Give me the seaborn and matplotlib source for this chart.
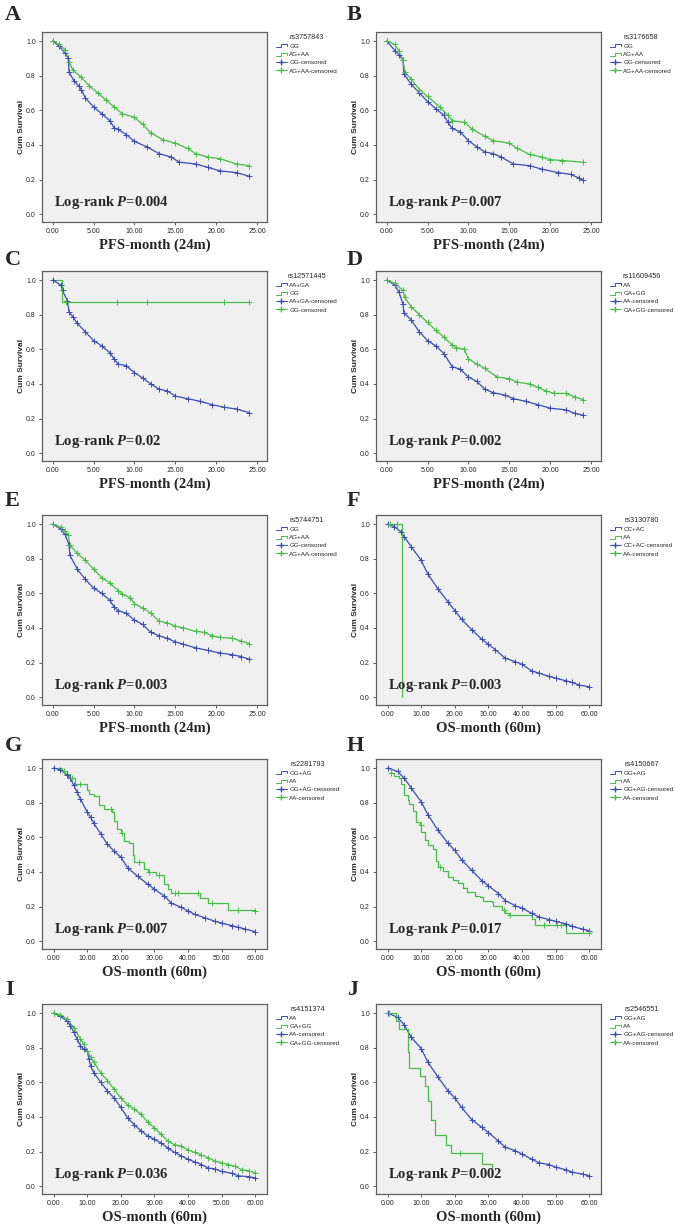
import numpy as np
import pandas as pd
import matplotlib
matplotlib.use('Agg')
import matplotlib.pyplot as plt
import seaborn as sns
from matplotlib.lines import Line2D
from matplotlib.legend_handler import HandlerBase

# ---- data (time in months, cumulative survival) ----
# A  rs3757843 (PFS)
a_gg_t = [0, 0.8, 1.5, 1.9, 2.0, 2.6, 3.2, 3.5, 4.0, 5.0, 6.0, 7.0, 7.5, 8.0, 9.0, 10.0, 11.5, 13.0, 14.5, 15.5, 17.5, 19.0, 20.5, 22.5, 24.0]
a_gg_s = [1.0, 0.97, 0.93, 0.90, 0.82, 0.77, 0.74, 0.72, 0.67, 0.62, 0.58, 0.54, 0.50, 0.49, 0.46, 0.42, 0.39, 0.35, 0.33, 0.30, 0.29, 0.27, 0.25, 0.24, 0.22]
a_ag_t = [0, 0.8, 1.5, 2.0, 2.5, 3.5, 4.5, 5.5, 6.5, 7.5, 8.5, 10.0, 11.0, 12.0, 13.5, 15.0, 16.5, 17.5, 19.0, 20.5, 22.5, 24.0]
a_ag_s = [1.0, 0.98, 0.95, 0.88, 0.83, 0.79, 0.74, 0.70, 0.66, 0.62, 0.58, 0.56, 0.52, 0.47, 0.43, 0.41, 0.38, 0.35, 0.33, 0.32, 0.29, 0.28]

# B  rs3176658 (PFS)
b_gg_t = [0, 1, 1.5, 2, 2.1, 3, 4, 5, 6, 7, 7.5, 8, 9, 10, 11, 12, 13, 14, 15.5, 17.5, 19, 21, 22.5, 23.5, 24]
b_gg_s = [1.0, 0.945, 0.92, 0.89, 0.81, 0.75, 0.70, 0.65, 0.61, 0.57, 0.53, 0.495, 0.475, 0.425, 0.39, 0.36, 0.35, 0.33, 0.29, 0.28, 0.26, 0.24, 0.23, 0.21, 0.195]
b_ag_t = [0, 1, 1.5, 2, 2.2, 3, 4, 5, 6.5, 7.5, 8, 9.5, 10.5, 12, 13, 15, 16, 17.5, 19, 20, 21.5, 24]
b_ag_s = [1.0, 0.98, 0.94, 0.89, 0.82, 0.78, 0.72, 0.68, 0.62, 0.57, 0.54, 0.53, 0.49, 0.45, 0.425, 0.41, 0.38, 0.345, 0.33, 0.315, 0.31, 0.30]

# C  rs12571445 (PFS)
c_aa_t = [0, 1, 1.2, 1.8, 2, 2.5, 3, 4, 5, 6, 7, 7.5, 8, 9, 10, 11, 12, 13, 14, 15, 16.5, 18, 19.5, 21, 22.5, 24]
c_aa_s = [1.0, 0.97, 0.94, 0.88, 0.815, 0.785, 0.75, 0.70, 0.65, 0.62, 0.58, 0.545, 0.515, 0.505, 0.465, 0.435, 0.40, 0.37, 0.36, 0.33, 0.315, 0.30, 0.28, 0.265, 0.255, 0.235]
c_gg_t = [0, 1.1, 24]
c_gg_s = [1.0, 0.875, 0.875]
c_gg_cens_t = [1.6, 7.9, 11.6, 21.0, 24.0]
c_gg_cens_s = [0.875, 0.875, 0.875, 0.875, 0.875]

# D  rs11609456 (PFS)
d_aa_t = [0, 1, 1.5, 2, 2.1, 3, 4, 5, 6, 7, 8, 9, 10, 11, 12, 13, 14.5, 15.5, 17, 18.5, 20, 22, 23, 24]
d_aa_s = [1.0, 0.97, 0.93, 0.86, 0.81, 0.77, 0.70, 0.65, 0.62, 0.575, 0.50, 0.485, 0.44, 0.415, 0.37, 0.35, 0.335, 0.315, 0.30, 0.28, 0.26, 0.25, 0.23, 0.22]
d_ga_t = [0, 1, 2, 2.2, 3, 4, 5, 6, 7, 8, 8.5, 9.5, 10, 11, 12, 13.5, 15, 16, 17.5, 18.5, 19.5, 20.5, 22, 23, 24]
d_ga_s = [1.0, 0.98, 0.94, 0.90, 0.845, 0.80, 0.755, 0.71, 0.67, 0.625, 0.61, 0.60, 0.545, 0.515, 0.49, 0.44, 0.43, 0.41, 0.40, 0.38, 0.36, 0.345, 0.345, 0.325, 0.31]

# E  rs5744751 (PFS)
e_gg_t = [0, 1, 1.5, 2, 2.1, 3, 4, 5, 6, 7, 7.5, 8, 9, 10, 11, 12, 13, 14, 15, 16, 17.5, 19, 20.5, 22, 23, 24]
e_gg_s = [1.0, 0.97, 0.94, 0.88, 0.82, 0.74, 0.68, 0.63, 0.60, 0.56, 0.52, 0.50, 0.485, 0.445, 0.42, 0.375, 0.355, 0.34, 0.32, 0.305, 0.285, 0.27, 0.255, 0.245, 0.235, 0.22]
e_ag_t = [0, 1, 1.5, 1.9, 2.1, 3, 4, 5, 6, 7, 8, 8.5, 9.5, 10, 11, 12, 13, 14, 15, 16, 17.5, 18.5, 19.5, 20.5, 22, 23, 24]
e_ag_s = [1.0, 0.98, 0.96, 0.935, 0.88, 0.83, 0.79, 0.74, 0.69, 0.66, 0.615, 0.595, 0.575, 0.54, 0.515, 0.485, 0.44, 0.43, 0.41, 0.40, 0.38, 0.375, 0.355, 0.345, 0.34, 0.325, 0.31]

# F  rs3130780 (OS)
f_cc_t = [0, 2, 4, 5, 7, 10, 12, 15, 18, 20, 22, 25, 28, 30, 32, 35, 38, 40, 43, 45, 48, 50, 53, 55, 57, 60]
f_cc_s = [1.0, 0.985, 0.955, 0.925, 0.87, 0.79, 0.71, 0.625, 0.55, 0.50, 0.45, 0.39, 0.335, 0.305, 0.275, 0.225, 0.205, 0.19, 0.15, 0.14, 0.12, 0.11, 0.095, 0.085, 0.07, 0.06]
f_aa_t = [0, 4.3]
f_aa_s = [1.0, 0.0]
f_aa_cens_t = [0.8, 2.8]
f_aa_cens_s = [1.0, 1.0]

# G  rs2281793 (OS)
g_gg_t = [0, 2, 4, 5, 6, 7, 8, 10, 11, 12, 14, 16, 18, 20, 22, 25, 28, 30, 33, 35, 38, 40, 42, 45, 48, 50, 53, 55, 57, 60]
g_gg_s = [1.0, 0.99, 0.96, 0.94, 0.90, 0.86, 0.82, 0.745, 0.715, 0.68, 0.62, 0.56, 0.52, 0.485, 0.425, 0.375, 0.33, 0.30, 0.26, 0.22, 0.195, 0.175, 0.155, 0.135, 0.115, 0.105, 0.09, 0.08, 0.07, 0.055]
g_aa_t = [0, 2.5, 4, 5, 6.5, 10, 10.5, 12, 13.5, 15, 17.5, 18, 19, 20, 21, 22.5, 23.5, 24, 27, 28, 30.5, 33, 34, 35, 43.5, 46, 52, 60]
g_aa_s = [1.0, 0.98, 0.965, 0.945, 0.91, 0.875, 0.85, 0.84, 0.785, 0.765, 0.745, 0.695, 0.65, 0.625, 0.58, 0.565, 0.50, 0.455, 0.415, 0.40, 0.385, 0.33, 0.30, 0.28, 0.25, 0.22, 0.18, 0.175]
g_aa_cens_t = [3.0, 5.5, 8.0, 17.0, 20.5, 25.5, 28.5, 31.5, 36.0, 37.0, 43.0, 47.0, 55.0, 60.0]
g_aa_cens_s = [0.98, 0.945, 0.91, 0.765, 0.625, 0.455, 0.40, 0.385, 0.28, 0.28, 0.28, 0.22, 0.18, 0.175]

# H  rs4150667 (OS)
h_gg_t = [0, 3, 5, 7, 10, 12, 15, 18, 20, 22, 25, 28, 30, 33, 35, 38, 40, 43, 45, 48, 50, 53, 55, 58, 60]
h_gg_s = [1.0, 0.98, 0.94, 0.885, 0.805, 0.73, 0.64, 0.565, 0.525, 0.47, 0.41, 0.35, 0.32, 0.275, 0.235, 0.205, 0.19, 0.16, 0.14, 0.125, 0.115, 0.10, 0.085, 0.07, 0.06]
h_aa_t = [0, 1, 2, 3.5, 4, 5, 6, 6.5, 7.5, 8.5, 9.5, 10, 11, 12, 13.5, 14.5, 15, 16.5, 18, 19.5, 21, 22.5, 23.5, 26, 27.5, 28.5, 31, 31.5, 34, 35, 36, 43, 44, 53, 60]
h_aa_s = [1.0, 0.97, 0.955, 0.94, 0.905, 0.845, 0.815, 0.79, 0.75, 0.69, 0.67, 0.63, 0.585, 0.555, 0.535, 0.465, 0.43, 0.405, 0.37, 0.355, 0.335, 0.31, 0.285, 0.26, 0.255, 0.235, 0.225, 0.205, 0.18, 0.16, 0.15, 0.13, 0.095, 0.045, 0.045]
h_aa_cens_t = [1.0, 9.8, 15.5, 34.5, 36.5, 46.5, 50.5, 51.5, 60.0]
h_aa_cens_s = [0.97, 0.67, 0.43, 0.18, 0.15, 0.095, 0.095, 0.095, 0.045]

# I  rs4151374 (OS)
i_aa_t = [0, 2, 4, 5, 6, 7, 8, 9, 10, 10.5, 11, 12, 14, 16, 18, 20, 22, 24, 26, 28, 30, 32, 34, 36, 38, 40, 42, 44, 46, 48, 50, 53, 55, 58, 60]
i_aa_s = [1.0, 0.98, 0.955, 0.925, 0.89, 0.85, 0.81, 0.79, 0.78, 0.735, 0.695, 0.655, 0.60, 0.55, 0.51, 0.455, 0.395, 0.355, 0.32, 0.29, 0.27, 0.25, 0.22, 0.195, 0.175, 0.155, 0.14, 0.125, 0.105, 0.10, 0.085, 0.075, 0.06, 0.055, 0.048]
i_ga_t = [0, 2, 4, 6, 8, 9, 10, 11, 12, 14, 16, 18, 20, 22, 24, 26, 28, 30, 32, 34, 36, 38, 40, 42, 44, 46, 48, 50, 52, 54, 56, 58, 60]
i_ga_s = [1.0, 0.99, 0.965, 0.915, 0.85, 0.82, 0.78, 0.745, 0.715, 0.655, 0.61, 0.56, 0.51, 0.47, 0.445, 0.415, 0.37, 0.335, 0.30, 0.26, 0.24, 0.23, 0.21, 0.195, 0.18, 0.165, 0.145, 0.135, 0.125, 0.115, 0.095, 0.09, 0.075]

# J  rs2546551 (OS)
j_gg_t = [0, 3, 5, 7, 10, 12, 15, 18, 20, 22, 25, 28, 30, 33, 35, 38, 40, 43, 45, 48, 50, 53, 55, 58, 60]
j_gg_s = [1.0, 0.975, 0.93, 0.86, 0.795, 0.715, 0.63, 0.55, 0.51, 0.455, 0.385, 0.34, 0.31, 0.26, 0.225, 0.205, 0.185, 0.155, 0.135, 0.125, 0.11, 0.095, 0.08, 0.07, 0.06]
j_aa_t = [0, 2.5, 3.5, 6, 6.5, 9.5, 11, 12, 13, 14, 17.5, 19, 28, 31]
j_aa_s = [1.0, 0.955, 0.905, 0.775, 0.685, 0.635, 0.58, 0.49, 0.385, 0.295, 0.24, 0.19, 0.13, 0.065]
j_aa_cens_t = [0.5, 21.5]
j_aa_cens_s = [1.0, 0.19]

letters = ['A', 'B', 'C', 'D', 'E', 'F', 'G', 'H', 'I', 'J']
snps = ['rs3757843', 'rs3176658', 'rs12571445', 'rs11609456', 'rs5744751',
        'rs3130780', 'rs2281793', 'rs4150667', 'rs4151374', 'rs2546551']
group1 = ['GG', 'GG', 'AA+GA', 'AA', 'GG', 'CC+AC', 'GG+AG', 'GG+AG', 'AA', 'GG+AG']
group2 = ['AG+AA', 'AG+AA', 'GG', 'GA+GG', 'AG+AA', 'AA', 'AA', 'AA', 'GA+GG', 'AA']
pvalues = ['0.004', '0.007', '0.02', '0.002', '0.003', '0.003', '0.007', '0.017', '0.036', '0.002']
endpoint = ['PFS', 'PFS', 'PFS', 'PFS', 'PFS', 'OS', 'OS', 'OS', 'OS', 'OS']

curves1 = [(a_gg_t, a_gg_s), (b_gg_t, b_gg_s), (c_aa_t, c_aa_s), (d_aa_t, d_aa_s), (e_gg_t, e_gg_s),
           (f_cc_t, f_cc_s), (g_gg_t, g_gg_s), (h_gg_t, h_gg_s), (i_aa_t, i_aa_s), (j_gg_t, j_gg_s)]
curves2 = [(a_ag_t, a_ag_s), (b_ag_t, b_ag_s), (c_gg_t, c_gg_s), (d_ga_t, d_ga_s), (e_ag_t, e_ag_s),
           (f_aa_t, f_aa_s), (g_aa_t, g_aa_s), (h_aa_t, h_aa_s), (i_ga_t, i_ga_s), (j_aa_t, j_aa_s)]
# censor marks for the sparse curves (others: marks on every point)
cens2 = {2: (c_gg_cens_t, c_gg_cens_s), 5: (f_aa_cens_t, f_aa_cens_s), 6: (g_aa_cens_t, g_aa_cens_s),
         7: (h_aa_cens_t, h_aa_cens_s), 9: (j_aa_cens_t, j_aa_cens_s)}

BLUE = '#3B4DB3'
GREEN = '#47BD47'
SERIF = ['Liberation Serif', 'DejaVu Serif']

sns.set_style('ticks')
plt.rcParams['font.family'] = ['Liberation Sans', 'DejaVu Sans']
plt.rcParams['mathtext.fontset'] = 'custom'
plt.rcParams['mathtext.it'] = 'Liberation Serif:italic:bold'
plt.rcParams['mathtext.rm'] = 'Liberation Serif:bold'


class StepHandler(HandlerBase):
    # small SPSS-like step icon for the legend
    def create_artists(self, legend, orig_handle, xdescent, ydescent, width, height, fontsize, trans):
        x0, y0 = -xdescent, -ydescent
        xs = [x0, x0 + width * 0.45, x0 + width * 0.45, x0 + width, x0 + width]
        ys = [y0 + height * 0.15, y0 + height * 0.15, y0 + height * 0.85, y0 + height * 0.85, y0 + height * 0.4]
        ln = Line2D(xs, ys, color=orig_handle.get_color(), lw=0.7, transform=trans)
        return [ln]


def draw_curve(ax, t, s, color, steps, ct=None, cs=None):
    df = pd.DataFrame({'t': t, 's': s})
    sns.lineplot(data=df, x='t', y='s', color=color, lw=0.9, estimator=None, sort=False,
                 drawstyle='steps-post' if steps else 'default', ax=ax, zorder=2)
    if ct is None:
        ct, cs = t, s
    sns.scatterplot(x=ct, y=cs, marker='+', color=color, s=16, linewidth=0.7, ax=ax, zorder=3)


W, H = 675, 1229
fig = plt.figure(figsize=(W / 100, H / 100), dpi=100)

row_tops = [32, 271, 515, 759, 1004]
col_left = [42, 376]
ax_w, ax_h = 225, 190
letter_base = [20, 265, 506, 751, 995]

for k in range(10):
    r, c = k // 2, k % 2
    ax = fig.add_axes([col_left[c] / W, 1 - (row_tops[r] + ax_h) / H, ax_w / W, ax_h / H])
    ax.set_facecolor('#F0F0F0')

    t1, s1 = curves1[k]
    t2, s2 = curves2[k]
    draw_curve(ax, t1, s1, BLUE, steps=False)
    if k in cens2:
        draw_curve(ax, t2, s2, GREEN, steps=True, ct=cens2[k][0], cs=cens2[k][1])
    else:
        draw_curve(ax, t2, s2, GREEN, steps=False)

    if endpoint[k] == 'PFS':
        ax.set_xlim(-1.31, 26.23)
        xt = np.arange(0, 26, 5)
        xl = 'PFS-month (24m)'
    else:
        ax.set_xlim(-3.45, 63.5)
        xt = np.arange(0, 61, 10)
        xl = 'OS-month (60m)'
    ax.set_ylim(-0.045, 1.052)
    ax.set_xticks(xt)
    ax.set_xticklabels([f'{v:.2f}' for v in xt])
    ax.set_yticks(np.arange(0, 1.01, 0.2))
    ax.set_yticklabels([f'{v:.1f}' for v in np.arange(0, 1.01, 0.2)])
    ax.tick_params(labelsize=5, length=2.5, width=0.6, color='#444444', pad=2)
    ax.set_xlabel('')
    ax.set_ylabel('')
    for sp in ax.spines.values():
        sp.set_visible(True)
        sp.set_color('#606060')
        sp.set_linewidth(0.9)

    ax.text(-0.09, 0.5, 'Cum Survival', rotation=90, transform=ax.transAxes,
            ha='center', va='center', fontsize=6, fontweight='bold')
    ax.text(0.5, -0.125, xl, transform=ax.transAxes, ha='center', va='center',
            fontsize=10.5, fontweight='bold', family=SERIF)
    ax.text(0.055, 0.105, r'Log-rank $P$=' + pvalues[k], transform=ax.transAxes,
            ha='left', va='center', fontsize=10.5, fontweight='bold', family=SERIF)

    h1 = Line2D([], [], color=BLUE)
    h2 = Line2D([], [], color=GREEN)
    h3 = Line2D([], [], color=BLUE, marker='+', lw=0.7, markersize=5)
    h4 = Line2D([], [], color=GREEN, marker='+', lw=0.7, markersize=5)
    ax.legend([h1, h2, h3, h4],
              [group1[k], group2[k], group1[k] + '-censored', group2[k] + '-censored'],
              handler_map={h1: StepHandler(), h2: StepHandler()},
              loc='upper left', bbox_to_anchor=(1.04, 0.99), frameon=False,
              fontsize=4.5, title=snps[k], title_fontsize=5.2, handlelength=1.7,
              handletextpad=0.45, labelspacing=0.45, borderpad=0, borderaxespad=0)

    fig.text((5 + c * 342) / W, 1 - letter_base[r] / H, letters[k], fontsize=16,
             fontweight='bold', family=SERIF, ha='left', va='baseline')

fig.savefig('out.png', dpi=100, facecolor='white')
